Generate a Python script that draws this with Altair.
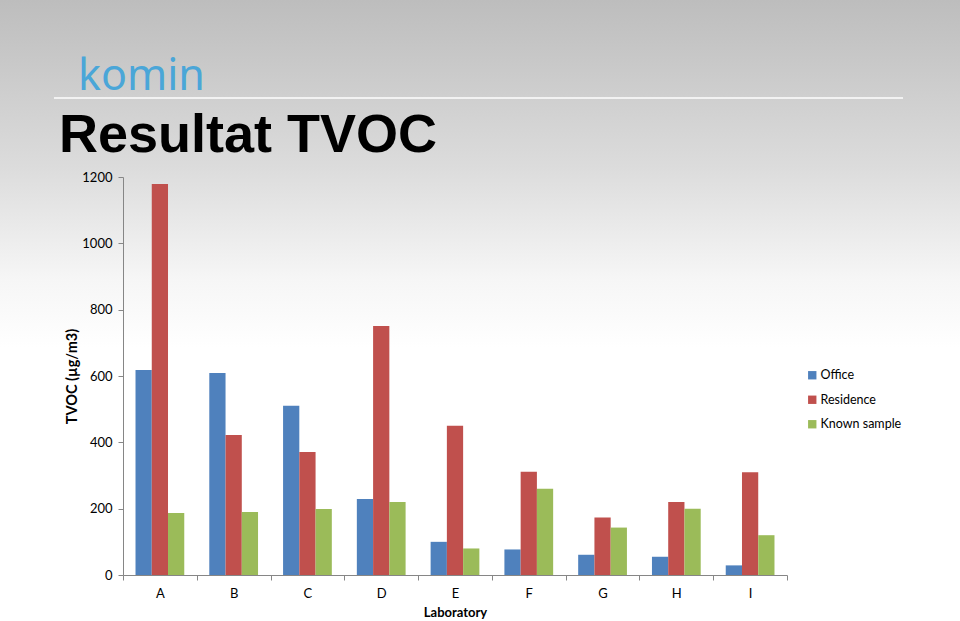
import altair as alt
import pandas as pd

labs = ["A", "B", "C", "D", "E", "F", "G", "H", "I"]
series = ["Office", "Residence", "Known sample"]
office = [618, 609, 510, 229, 100, 77, 61, 55, 29]
residence = [1179, 422, 371, 751, 450, 311, 173, 220, 310]
known = [187, 190, 199, 220, 80, 260, 143, 200, 120]
colors = ["#4F81BD", "#C0504D", "#9BBB59"]
y_ticks = [0, 200, 400, 600, 800, 1000, 1200]

rows = []
for i, lab in enumerate(labs):
    for s, vals in zip(series, [office, residence, known]):
        rows.append({"lab": lab, "series": s, "value": vals[i]})
df = pd.DataFrame(rows)

W, H = 664, 398
PL, PT = 123, 177
FONT = "Lato"

bg = alt.Chart(pd.DataFrame({"k": [0]})).mark_rect(
    color=alt.Gradient(
        gradient="linear",
        stops=[
            alt.GradientStop(color="#bdbdbd", offset=0),
            alt.GradientStop(color="#dcdcdc", offset=0.27),
            alt.GradientStop(color="#f6f6f6", offset=0.45),
            alt.GradientStop(color="#ffffff", offset=0.56),
            alt.GradientStop(color="#ffffff", offset=1),
        ],
        x1=0, x2=0, y1=0, y2=1,
    )
).encode(
    x=alt.value(-PL), x2=alt.value(960 - PL),
    y=alt.value(-PT), y2=alt.value(621 - PT),
)

sep = alt.Chart(pd.DataFrame({"k": [0]})).mark_rule(
    color="#f2f2f2", strokeWidth=2
).encode(x=alt.value(54 - PL), x2=alt.value(903 - PL), y=alt.value(98 - PT))

logo = alt.Chart(pd.DataFrame({"t": ["komin"]})).mark_text(
    font="Noto Sans", fontSize=43, color="#4aa6d8", align="left",
    baseline="alphabetic"
).encode(x=alt.value(78 - PL), y=alt.value(90 - PT), text="t:N")

title = alt.Chart(pd.DataFrame({"t": ["Resultat TVOC"]})).mark_text(
    font="Liberation Sans", fontWeight="bold", fontSize=54, color="#000000",
    align="left", baseline="alphabetic"
).encode(x=alt.value(59 - PL), y=alt.value(152 - PT), text="t:N")

bars = alt.Chart(df).mark_bar(stroke=None).encode(
    x=alt.X(
        "lab:N", sort=labs,
        scale=alt.Scale(paddingInner=0, paddingOuter=0),
        axis=alt.Axis(
            title="Laboratory", labelAngle=0, tickBand="extent", zindex=2,
            domainColor="#868686", tickColor="#868686", tickSize=5,
            labelFont=FONT, labelFontSize=13, labelColor="#000000",
            labelPadding=7, titleFont=FONT, titleFontSize=13,
            titleFontWeight="bold", titleColor="#000000", titlePadding=6,
        ),
    ),
    xOffset=alt.XOffset(
        "series:N", sort=series,
        scale=alt.Scale(paddingOuter=0.77, paddingInner=0),
    ),
    y=alt.Y(
        "value:Q",
        scale=alt.Scale(domain=[0, 1200], nice=False),
        axis=alt.Axis(
            title="TVOC (µg/m3)", values=y_ticks, grid=False, zindex=2,
            format="d",
            domainColor="#868686", tickColor="#868686", tickSize=5,
            labelFont=FONT, labelFontSize=13, labelColor="#000000",
            labelPadding=6, titleFont=FONT, titleFontSize=14.5,
            titleFontWeight="bold", titleColor="#000000", titlePadding=2,
        ),
    ),
    color=alt.Color(
        "series:N", sort=series,
        scale=alt.Scale(domain=series, range=colors),
        legend=alt.Legend(
            title=None, orient="none", legendX=683, legendY=192,
            symbolType="square", symbolSize=70, symbolStrokeWidth=0,
            labelFont=FONT, labelFontSize=12.5, labelColor="#000000",
            rowPadding=11.5, labelOffset=2,
        ),
    ),
)

chart = alt.layer(bg, sep, logo, title, bars).properties(
    width=W, height=H,
    autosize=alt.AutoSizeParams(type="none"),
    padding={"left": PL, "top": PT, "right": 960 - PL - W, "bottom": 621 - PT - H},
).configure_view(stroke=None).configure(background="#ffffff")

chart.save("out.html", embed_options={"renderer": "svg", "actions": False})
